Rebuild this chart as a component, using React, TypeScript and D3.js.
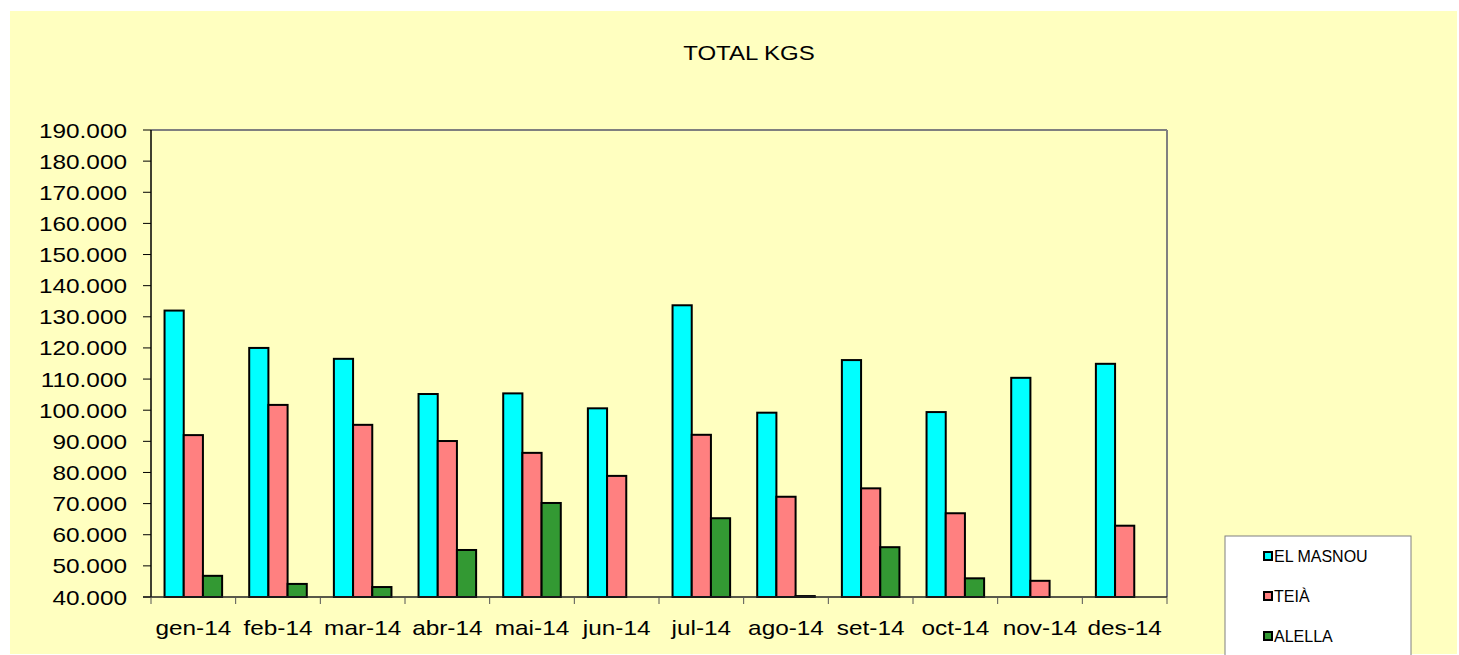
import React from 'react';
import * as d3 from 'd3';

const months = ['gen-14', 'feb-14', 'mar-14', 'abr-14', 'mai-14', 'jun-14', 'jul-14', 'ago-14', 'set-14', 'oct-14', 'nov-14', 'des-14'];
const seriesNames = ['EL MASNOU', 'TEIÀ', 'ALELLA'];
const elMasnou = [132000, 120000, 116500, 105200, 105400, 100600, 133700, 99200, 116100, 99400, 110400, 114900];
const teia = [92000, 101700, 95300, 90100, 86300, 78900, 92100, 72200, 74900, 66900, 45200, 62900];
const alella = [46800, 44200, 43200, 55100, 70200, 0, 65300, 40300, 56000, 46000, 0, 0];
const yTicks = [40000, 50000, 60000, 70000, 80000, 90000, 100000, 110000, 120000, 130000, 140000, 150000, 160000, 170000, 180000, 190000];
const colors = ['#00FFFF', '#FF8080', '#339933'];

const W = 1459, H = 655;
const margin = { left: 151, top: 130, right: 1167, bottom: 597 };
const font = '"Liberation Sans", Arial, sans-serif';
const bg = '#FFFFC0';

const locale = d3.formatLocale({ decimal: ',', thousands: '.', grouping: [3], currency: ['', ''] });
const fmt = locale.format(',d');

const App = () => {
  const values = [elMasnou, teia, alella];

  const x0 = d3.scaleBand().domain(months).range([margin.left, margin.right]);
  const bw = x0.bandwidth();
  const gap = bw * 0.16;
  const x1 = d3.scaleBand().domain(seriesNames).range([gap, bw - gap]);

  const y = d3.scaleLinear().domain([40000, 190000]).range([margin.bottom, margin.top]);
  const [yMin] = y.domain();

  return (
    <div style={{ position: 'fixed', left: 0, top: 0 }}>
      <svg width={W} height={H} style={{ display: 'block' }}>
        <rect x={0} y={0} width={W} height={H} fill="#fff" />
        <rect x={10} y={11} width={1447} height={643} fill={bg} />

        <text transform={`translate(749,60) scale(1.2,1)`} textAnchor="middle" fontFamily={font} fontSize={20} fill="#000">
          TOTAL KGS
        </text>

        {/* plot frame: top & right gray */}
        <line x1={margin.left} x2={margin.right} y1={margin.top} y2={margin.top} stroke="#808080" strokeWidth={2} />
        <line x1={margin.right} x2={margin.right} y1={margin.top} y2={margin.bottom} stroke="#808080" strokeWidth={2} />

        {/* bars */}
        {months.map((m, i) => (
          <g key={m} transform={`translate(${x0(m)},0)`}>
            {seriesNames.map((s, j) => {
              const v = Math.max(values[j][i], yMin);
              const top = y(v);
              return (
                <rect
                  key={s}
                  x={x1(s)}
                  y={top}
                  width={x1.bandwidth()}
                  height={margin.bottom - top}
                  fill={colors[j]}
                  stroke="#000"
                  strokeWidth={2}
                />
              );
            })}
          </g>
        ))}

        {/* y axis */}
        <line x1={margin.left} x2={margin.left} y1={margin.top} y2={margin.bottom} stroke="#000" strokeWidth={1.5} />
        {yTicks.map(t => (
          <g key={t}>
            <line x1={margin.left - 8} x2={margin.left} y1={y(t)} y2={y(t)} stroke="#000" strokeWidth={1} />
            <text
              transform={`translate(127,${y(t)}) scale(1.16,1)`}
              textAnchor="end"
              dy="0.36em"
              fontFamily={font}
              fontSize={21}
              fill="#000"
            >
              {fmt(t)}
            </text>
          </g>
        ))}

        {/* x axis */}
        <line x1={margin.left - 8} x2={margin.right} y1={margin.bottom} y2={margin.bottom} stroke="#222" strokeWidth={1.5} />
        {[...months.map(m => x0(m) as number), margin.right].map((tx, i) => (
          <line key={i} x1={tx} x2={tx} y1={margin.bottom} y2={margin.bottom + 7} stroke="#555" strokeWidth={1} />
        ))}
        {months.map(m => (
          <text
            key={m}
            transform={`translate(${(x0(m) as number) + bw / 2},635) scale(1.16,1)`}
            textAnchor="middle"
            fontFamily={font}
            fontSize={21}
            fill="#000"
          >
            {m}
          </text>
        ))}

        {/* legend */}
        <rect x={1225} y={536} width={186} height={140} fill="#fff" stroke="#808080" strokeWidth={1} />
        {seriesNames.map((s, j) => {
          const cy = 556 + j * 40;
          return (
            <g key={s}>
              <rect x={1264} y={cy - 4} width={8} height={8} fill={colors[j]} stroke="#000" strokeWidth={2} />
              <text x={1274} y={cy} dy="0.36em" fontFamily={font} fontSize={16} fill="#000">
                {s}
              </text>
            </g>
          );
        })}
      </svg>
    </div>
  );
};

export default App;
